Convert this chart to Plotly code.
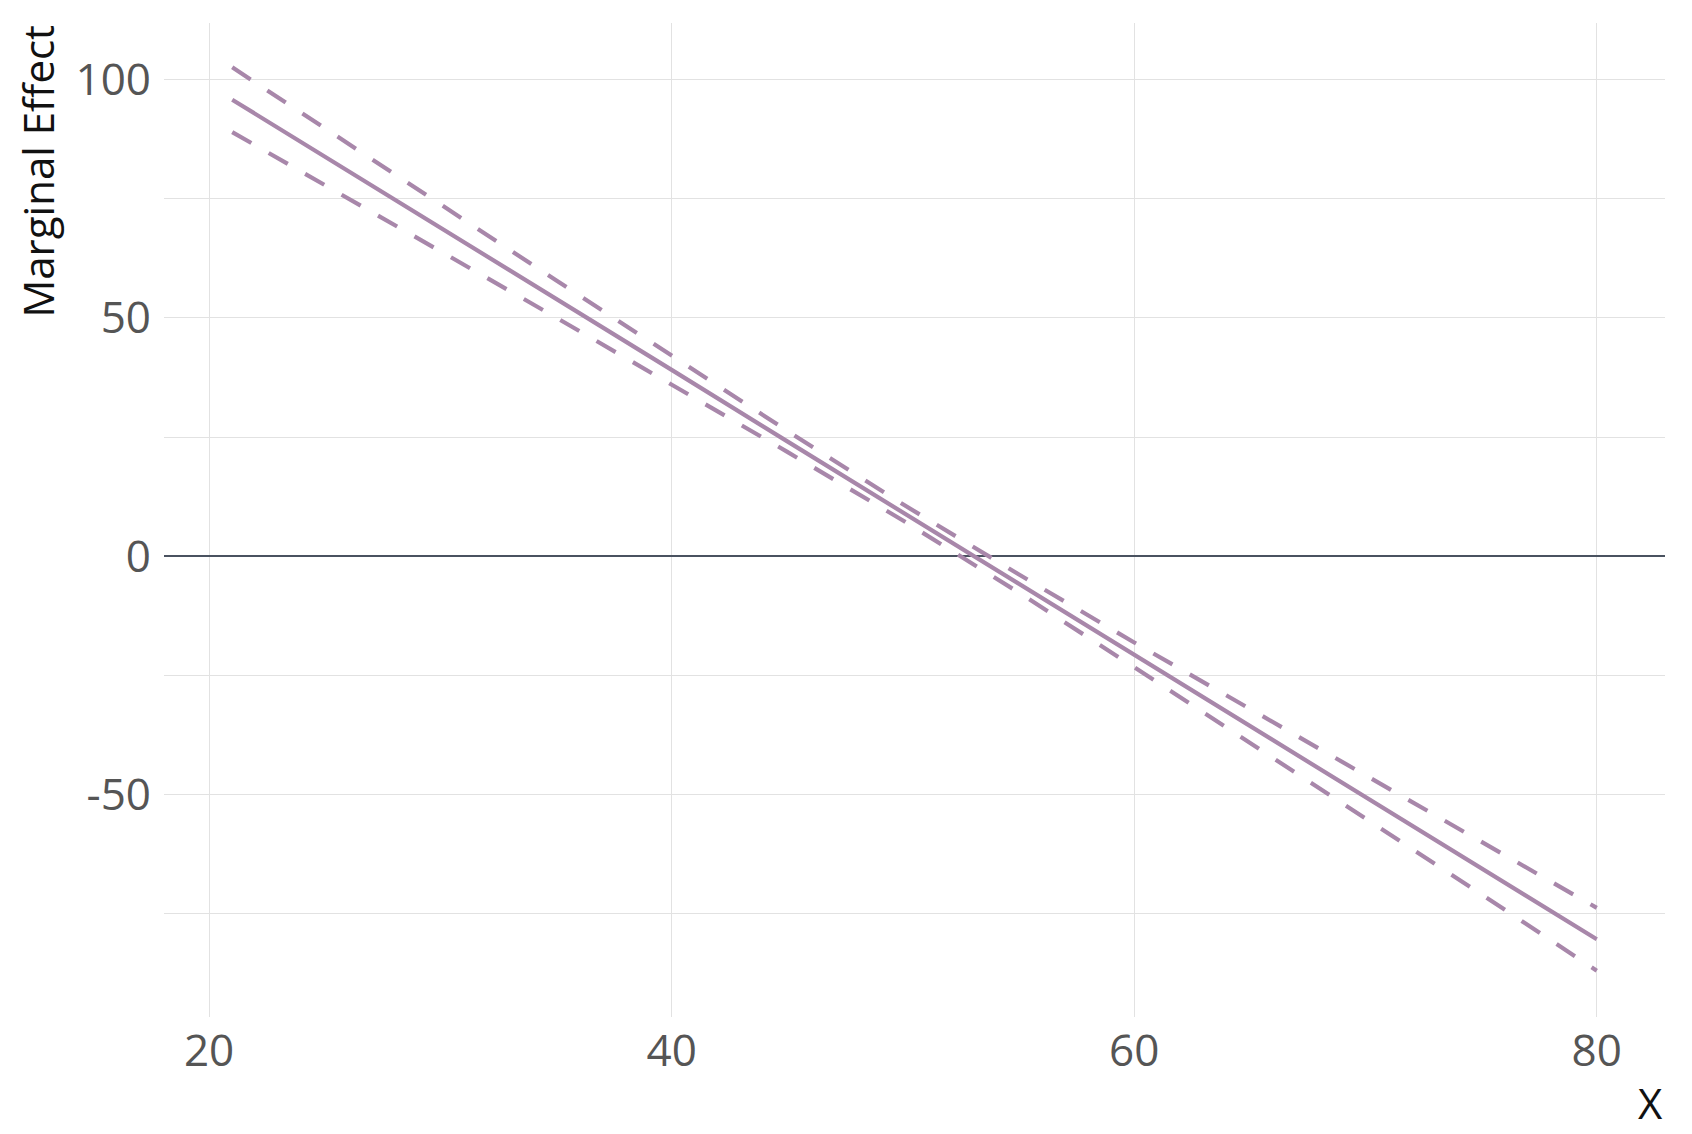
import plotly.graph_objects as go

# Values
x_vals = [21, 25, 30, 35, 40, 45, 50, 55, 60, 65, 70, 75, 80]
me_vals = [95.8, 83.9, 68.9, 54.0, 39.1, 24.1, 9.2, -5.7, -20.7, -35.6, -50.5, -65.4, -80.4]
upper_vals = [102.6, 89.8, 73.8, 57.9, 42.1, 26.3, 10.9, -3.8, -18.1, -32.1, -46.0, -59.9, -73.8]
lower_vals = [89.0, 78.0, 64.0, 50.1, 36.1, 21.9, 7.5, -7.6, -23.3, -39.1, -55.0, -70.9, -87.0]

x_ticks = [20, 40, 60, 80]
y_ticks = [-50, 0, 50, 100]
y_grid = [-75, -50, -25, 0, 25, 50, 75, 100]

LINE_COLOR = "#a887aa"
FONT = "Open Sans"

fig = go.Figure()

fig.add_trace(go.Scatter(x=x_vals, y=upper_vals, mode="lines",
                         line=dict(color=LINE_COLOR, width=4.2, dash="22px,20px"),
                         showlegend=False, hoverinfo="skip"))
fig.add_trace(go.Scatter(x=x_vals, y=lower_vals, mode="lines",
                         line=dict(color=LINE_COLOR, width=4.2, dash="22px,20px"),
                         showlegend=False, hoverinfo="skip"))
fig.add_trace(go.Scatter(x=x_vals, y=me_vals, mode="lines",
                         line=dict(color=LINE_COLOR, width=4.2),
                         showlegend=False))

fig.update_layout(
    width=1684, height=1126,
    margin=dict(l=156, r=27, t=15, b=117, autoexpand=False),
    plot_bgcolor="white", paper_bgcolor="white",
    font=dict(family=FONT, color="#555555"),
    xaxis=dict(range=[18.05, 82.95], tickvals=x_ticks, ticktext=[str(v) for v in x_ticks],
               showgrid=True, gridcolor="#e2e2e2", gridwidth=1, zeroline=False,
               showline=False, ticks="", tickfont=dict(size=44, color="#555555"),
               ticklabelstandoff=4, automargin=False),
    yaxis=dict(range=[-96.7, 111.9], tickmode="array", tickvals=y_grid,
               ticktext=["" if v not in y_ticks else str(v) for v in y_grid],
               showgrid=True, gridcolor="#e2e2e2", gridwidth=1,
               zeroline=True, zerolinecolor="#4a5260", zerolinewidth=2.2,
               showline=False, ticks="", tickfont=dict(size=44, color="#555555"),
               ticklabelstandoff=12, automargin=False),
    annotations=[
        dict(text="Marginal Effect", xref="paper", yref="paper", x=-0.0846, y=1.0,
             xanchor="center", yanchor="top", textangle=-90, showarrow=False,
             font=dict(size=42, color="#111111", family=FONT)),
        dict(text="X", xref="paper", yref="paper", x=1.0, y=-0.0858,
             xanchor="right", yanchor="middle", showarrow=False,
             font=dict(size=42, color="#111111", family=FONT)),
    ],
)

fig.write_html("out.html")
